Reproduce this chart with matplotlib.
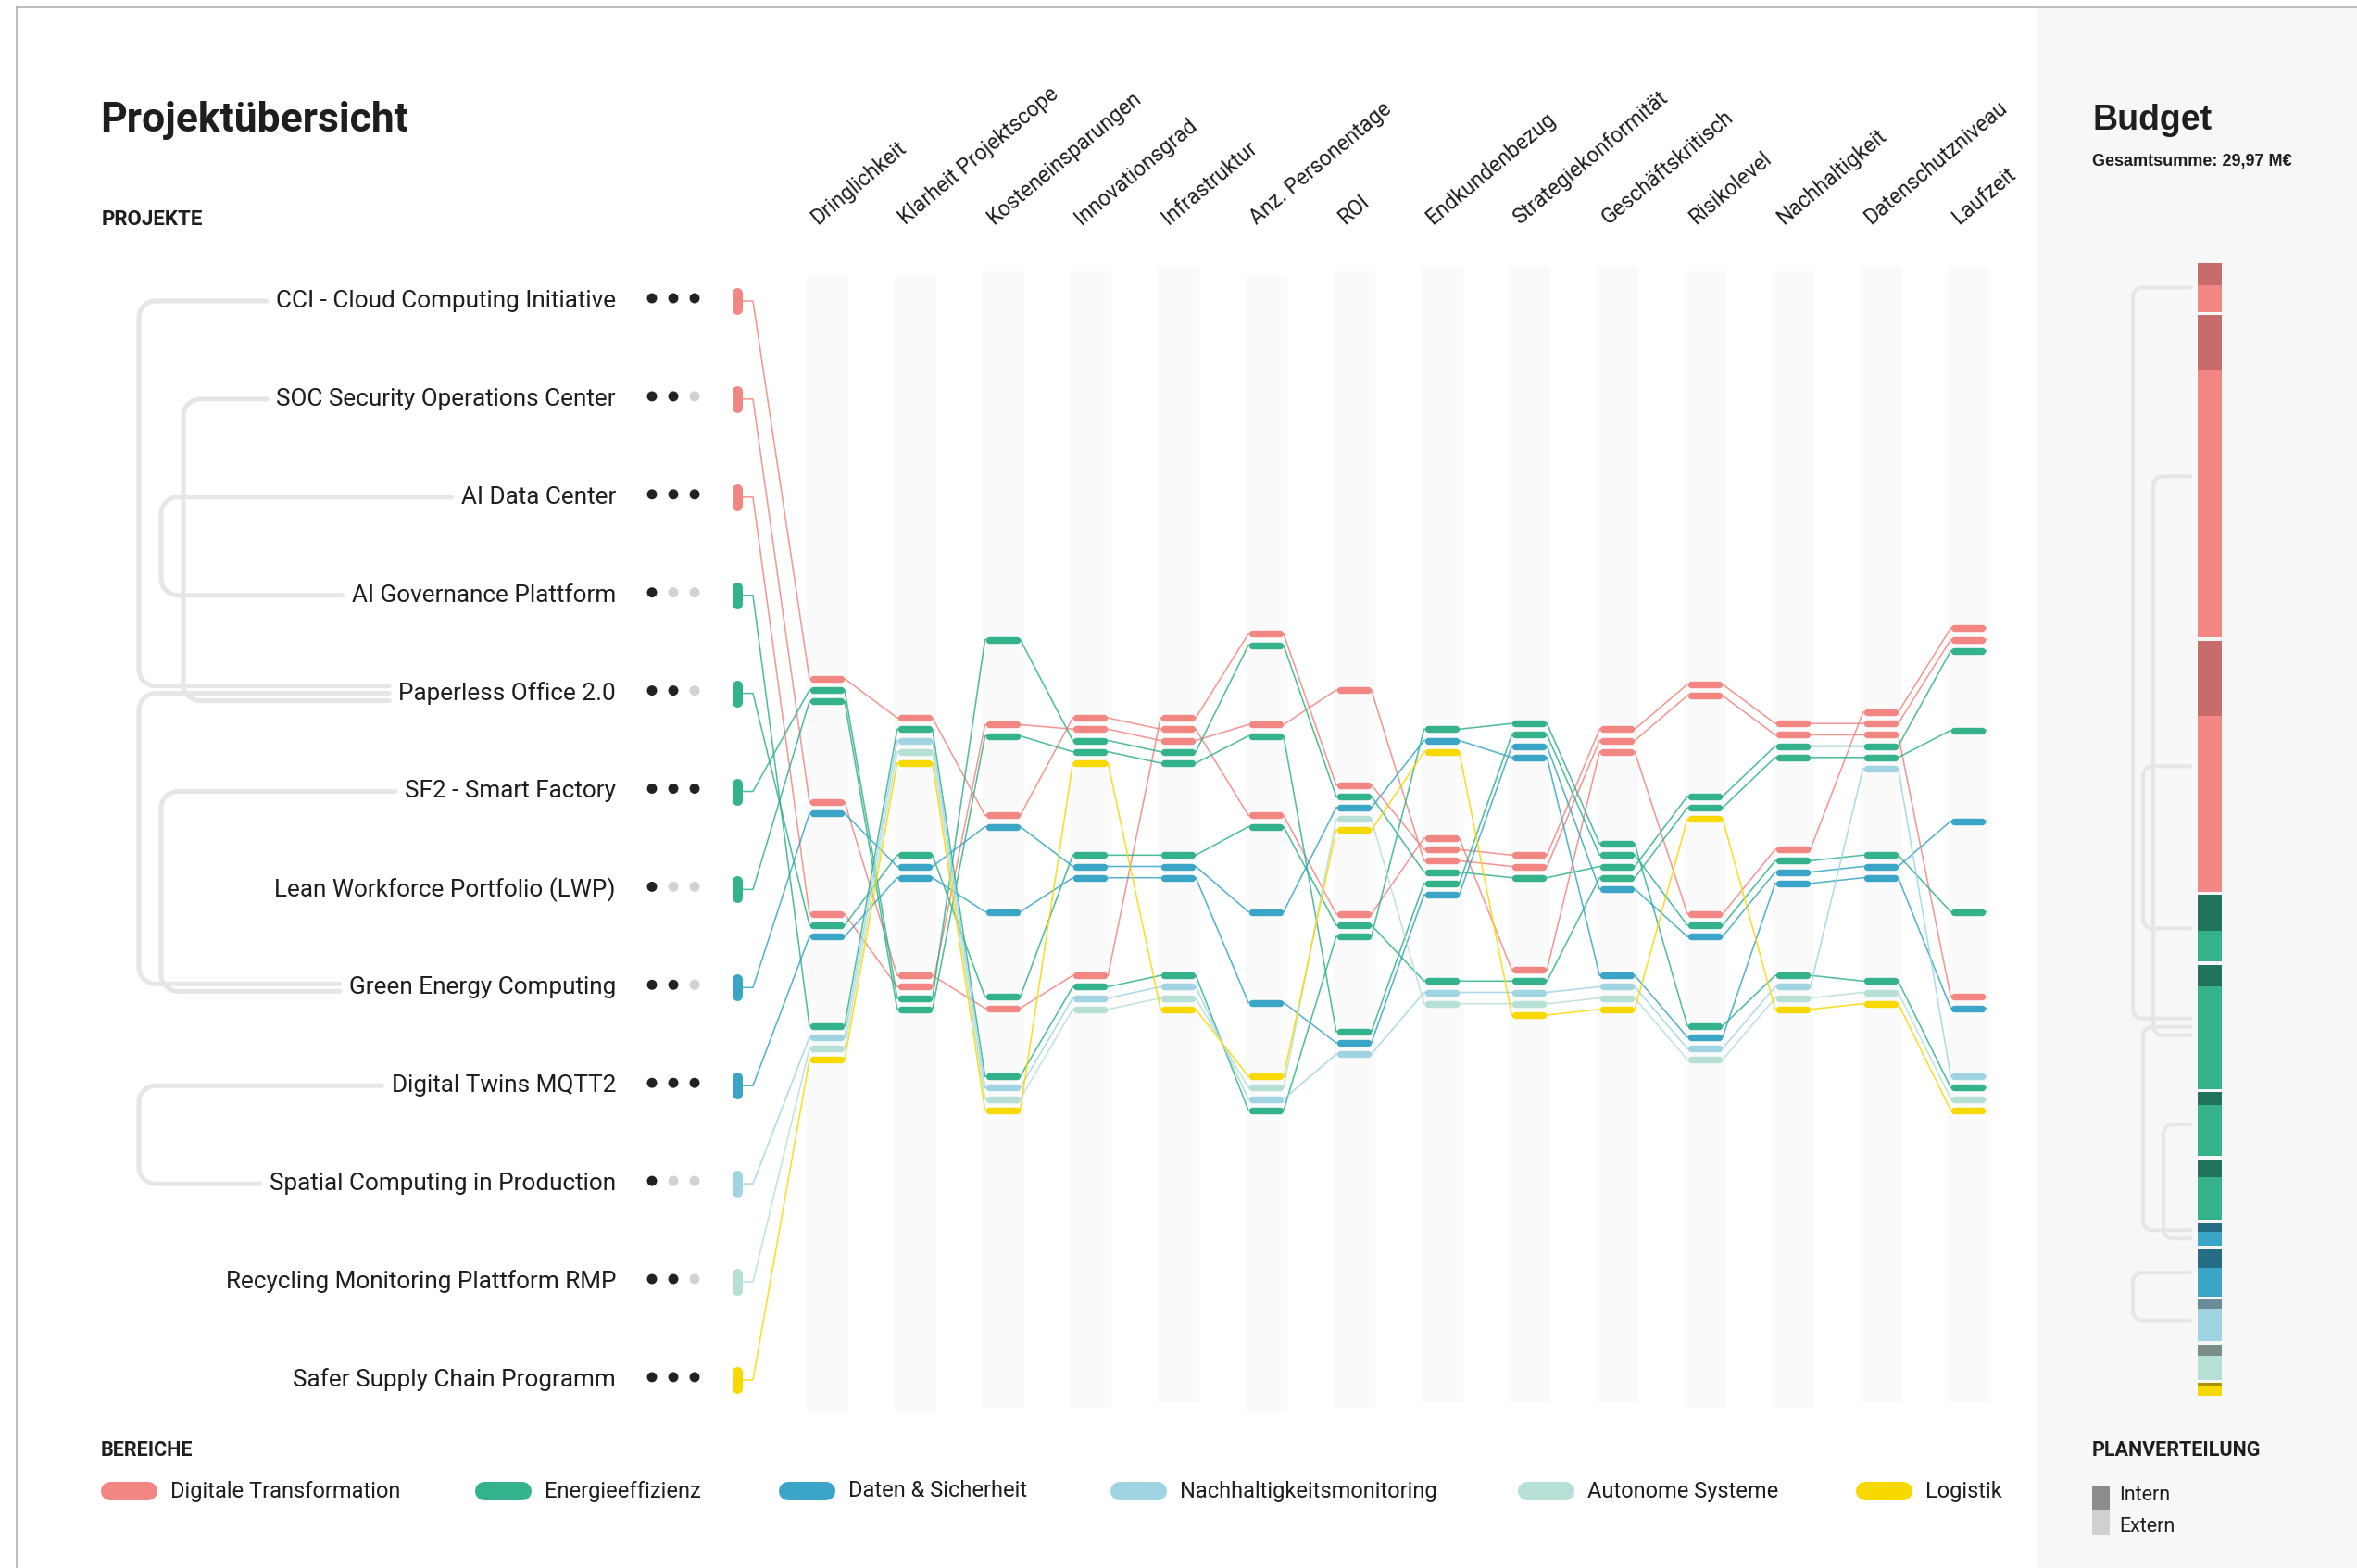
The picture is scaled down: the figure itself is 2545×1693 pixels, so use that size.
import numpy as np
import matplotlib.pyplot as plt
from matplotlib.patches import Rectangle

####################################################
# Data
####################################################
projects = ['CCI - Cloud Computing Initiative', 'SOC Security Operations Center', 'AI Data Center',
            'AI Governance Plattform', 'Paperless Office 2.0', 'SF2 - Smart Factory',
            'Lean Workforce Portfolio (LWP)', 'Green Energy Computing', 'Digital Twins MQTT2',
            'Spatial Computing in Production', 'Recycling Monitoring Plattform RMP',
            'Safer Supply Chain Programm']
project_area = [0, 0, 0, 1, 1, 1, 1, 2, 2, 3, 4, 5]
priority = [3, 2, 3, 1, 2, 3, 1, 2, 3, 1, 2, 3]   # filled dots of 3

areas = ['Digitale Transformation', 'Energieeffizienz', 'Daten & Sicherheit',
         'Nachhaltigkeitsmonitoring', 'Autonome Systeme', 'Logistik']

criteria = ['Dringlichkeit', 'Klarheit Projektscope', 'Kosteneinsparungen', 'Innovationsgrad',
            'Infrastruktur', 'Anz. Personentage', 'ROI', 'Endkundenbezug', 'Strategiekonformität',
            'Geschäftskritisch', 'Risikolevel', 'Nachhaltigkeit', 'Datenschutzniveau', 'Laufzeit']
n_levels = [4, 3, 6, 3, 3, 6, 4, 3, 3, 3, 4, 3, 3, 6]

# one row per criterion, one value per project (higher = further up)
scores = [
    [4, 3, 2, 1, 2, 4, 4, 3, 2, 1, 1, 1],
    [3, 1, 1, 3, 2, 1, 1, 2, 2, 3, 3, 3],
    [4, 2, 5, 1, 2, 6, 5, 4, 3, 1, 1, 1],
    [3, 1, 3, 1, 2, 3, 3, 2, 2, 1, 1, 3],
    [3, 3, 3, 1, 2, 3, 3, 2, 2, 1, 1, 1],
    [4, 6, 5, 1, 4, 6, 5, 3, 2, 1, 1, 1],
    [2, 3, 4, 2, 2, 3, 1, 3, 1, 1, 3, 3],
    [2, 2, 2, 3, 1, 2, 2, 3, 2, 1, 1, 3],
    [1, 2, 2, 3, 1, 2, 3, 3, 3, 1, 1, 1],
    [3, 3, 3, 2, 2, 2, 2, 1, 2, 1, 1, 1],
    [2, 4, 4, 1, 3, 3, 2, 1, 2, 1, 1, 3],
    [2, 3, 3, 1, 3, 3, 2, 2, 2, 1, 1, 1],
    [3, 3, 3, 1, 3, 3, 2, 2, 2, 3, 1, 1],
    [6, 6, 2, 1, 5, 6, 3, 2, 4, 1, 1, 1],
]

# stacking order of tied projects per criterion (top to bottom)
stack_order = [
    [0, 5, 6, 1, 7, 2, 4, 8, 3, 9, 10, 11],
    [0, 3, 9, 10, 11, 4, 7, 8, 1, 2, 5, 6],
    [5, 2, 6, 0, 7, 8, 4, 1, 3, 9, 10, 11],
    [0, 2, 5, 6, 11, 4, 7, 8, 1, 3, 9, 10],
    [1, 0, 2, 5, 6, 4, 7, 8, 3, 9, 10, 11],
    [1, 5, 2, 6, 0, 4, 7, 8, 11, 10, 9, 3],
    [2, 1, 5, 7, 10, 11, 0, 4, 3, 6, 8, 9],
    [3, 7, 11, 0, 1, 2, 5, 6, 8, 4, 9, 10],
    [3, 6, 8, 7, 1, 2, 5, 0, 4, 9, 10, 11],
    [1, 2, 0, 3, 6, 5, 4, 8, 7, 9, 10, 11],
    [1, 2, 5, 4, 11, 0, 6, 8, 3, 7, 9, 10],
    [1, 2, 5, 4, 0, 6, 8, 7, 3, 9, 10, 11],
    [0, 1, 2, 5, 4, 9, 6, 8, 7, 3, 10, 11],
    [0, 1, 5, 4, 8, 6, 2, 7, 9, 3, 10, 11],
]

budget = [1.34, 8.80, 6.86, 1.82, 3.39, 1.75, 1.64, 0.63, 1.29, 1.14, 0.96, 0.35]   # M€
intern_share = [0.45, 0.17, 0.30, 0.54, 0.17, 0.20, 0.29, 0.40, 0.39, 0.22, 0.32, 0.21]

links = [(0, 4), (4, 7), (1, 4), (2, 3), (5, 7), (8, 9)]

####################################################
# Layout / style
####################################################
W, H = 2545, 1693
PX = 0.72                      # points per pixel at dpi 100
area_colors = ['#F28682', '#33B28B', '#3AA5C6', '#A0D4E3', '#B6DFD6', '#F7D900']
dark_colors = ['#C76B6B', '#22735E', '#276C85', '#6A8C97', '#7A8F89', '#A89400']
txt = '#1e1e1e'

row0, row_step = 325, 105.9
col0, col_step = 893, 94.8
pc_center = 935.5
level_step = {3: 136, 4: 127, 6: 98}
stack_gap = 12.2
band_top = [298, 298, 293, 293, 288, 298, 293, 288, 288, 288, 293, 293, 288, 288]
left_depth = [0, 0, 2, 1, 1, 0]
right_depth = [0, 1, 2, 1, 3, 0]
legend_x = [109, 513, 841, 1199, 1639, 2004]

plt.rcParams['font.family'] = ['Roboto', 'DejaVu Sans']


def row_y(j):
    return row0 + j * row_step


def col_x(i):
    return col0 + i * col_step


def tick_positions(c):
    n = n_levels[c]
    pos = {}
    for s in range(1, n + 1):
        group = [p for p in stack_order[c] if scores[c][p] == s]
        base = pc_center - (s - (n + 1) / 2) * level_step[n]
        for k, p in enumerate(group):
            pos[p] = base + (k - (len(group) - 1) / 2) * stack_gap
    return pos


def bracket(ax, xv, y1, y2, xe1, xe2, r, lw):
    t = np.linspace(0, np.pi / 2, 12)
    xs = [xe1] + list(xv + r - r * np.sin(t)) + list(xv + r - r * np.cos(t)) + [xe2]
    ys = [y1] + list(y1 + r - r * np.cos(t)) + list(y2 - r + r * np.sin(t)) + [y2]
    ax.plot(xs, ys, color='#e6e6e6', lw=lw, solid_capstyle='round', zorder=1)


####################################################
# Figure
####################################################
fig = plt.figure(figsize=(W / 100, H / 100), dpi=100)
ax = fig.add_axes([0, 0, 1, 1])
ax.set_xlim(0, W)
ax.set_ylim(H, 0)
ax.axis('off')

# right panel and frame
ax.add_patch(Rectangle((2199, 8), W - 2199, H - 8, color='#f7f7f7', zorder=0))
ax.plot([18, 18], [8, H], color='#a8a8a8', lw=1.5 * PX, zorder=0.2)
ax.plot([18, W], [8, 8], color='#a8a8a8', lw=1.5 * PX, zorder=0.2)

ax.text(108, 130, 'Projektübersicht', fontsize=32, fontweight='bold', color=txt, va='center')
ax.text(110, 237, 'PROJEKTE', fontsize=16, fontweight='bold', color=txt, va='center')

# column bands and headers
for i, crit in enumerate(criteria):
    cx = col_x(i)
    ax.add_patch(Rectangle((cx - 22, band_top[i]), 44, 1226, color='#fafafa', zorder=0.5))
    ax.text(cx - 10, 243, crit, rotation=40, rotation_mode='anchor', ha='left', va='baseline',
            fontsize=16.5, color=txt)

# project labels, priority dots
label_objs = []
for j, name in enumerate(projects):
    ry = row_y(j)
    t = ax.text(665, ry, name, ha='right', va='center', fontsize=18.8, color=txt)
    label_objs.append(t)
    dot_cols = ['#222222' if k < priority[j] else '#d2d2d2' for k in range(3)]
    ax.scatter([704, 727, 750], [ry - 3] * 3, s=62, c=dot_cols, linewidths=0, zorder=3)

# parallel coordinates
positions = [tick_positions(c) for c in range(len(criteria))]
for j in range(len(projects)):
    col = area_colors[project_area[j]]
    ry = row_y(j)
    xs, ys = [796, 813], [ry, ry]
    for c in range(len(criteria)):
        cx = col_x(c)
        y = positions[c][j]
        xs += [cx - 19, cx + 19]
        ys += [y, y]
    ax.plot(xs, ys, color=col, lw=1.6 * PX, alpha=0.85, zorder=2, solid_joinstyle='round')
    ax.plot([796, 796], [ry - 9, ry + 9], color=col, lw=11 * PX, solid_capstyle='round', zorder=4)
    for c in range(len(criteria)):
        cx = col_x(c)
        y = positions[c][j]
        ax.plot([cx - 15, cx + 15], [y, y], color=col, lw=7.4 * PX, solid_capstyle='round', zorder=4)

# left dendrogram links
fig.canvas.draw()
renderer = fig.canvas.get_renderer()
inv = ax.transData.inverted()
label_left = []
for t in label_objs:
    bb = t.get_window_extent(renderer)
    label_left.append(inv.transform((bb.x0, bb.y0))[0])

arm_off = {}
for k, (a, b) in enumerate(links):
    arm_off.setdefault(a, []).append(k)
    arm_off.setdefault(b, []).append(k)


def arm_y(p, k, base, gap):
    lst = arm_off[p]
    m = lst.index(k)
    return base + (m - (len(lst) - 1) / 2) * gap


for k, (a, b) in enumerate(links):
    xv = 150 + 24 * left_depth[k]
    y1 = arm_y(a, k, row_y(a), 8)
    y2 = arm_y(b, k, row_y(b), 8)
    bracket(ax, xv, y1, y2, label_left[a] - 10, label_left[b] - 10, 18, 5 * PX)

# budget bar
ax.text(2259, 130, 'Budget', fontsize=27, fontweight='bold', color=txt, va='center',
        family='Liberation Sans')
total = sum(budget)
ax.text(2259, 174, 'Gesamtsumme: ' + f'{total:.2f}'.replace('.', ',') + ' M€', fontsize=13,
        fontweight='bold', color=txt, va='center', family='Liberation Sans')

bar_x, bar_w, bar_top, seg_gap = 2373, 26, 284, 3.5
scale = (1507 - bar_top - seg_gap * (len(budget) - 1)) / total
seg_mid = []
y = bar_top
for j, b in enumerate(budget):
    h = b * scale
    a = project_area[j]
    ax.add_patch(Rectangle((bar_x, y), bar_w, h, color=area_colors[a], zorder=3, lw=0))
    ax.add_patch(Rectangle((bar_x, y), bar_w, h * intern_share[j], color=dark_colors[a], zorder=3, lw=0))
    seg_mid.append(y + h / 2)
    y += h + seg_gap

for k, (a, b) in enumerate(links):
    xv = 2303 + 11 * right_depth[k]
    y1 = arm_y(a, k, seg_mid[a], 9)
    y2 = arm_y(b, k, seg_mid[b], 9)
    bracket(ax, xv, y1, y2, 2365, 2365, 10, 4 * PX)

# legends
ax.text(109, 1566, 'BEREICHE', fontsize=15.5, fontweight='bold', color=txt, va='center')
for a, name in enumerate(areas):
    lx = legend_x[a]
    ax.plot([lx + 10, lx + 51], [1610, 1610], color=area_colors[a], lw=20 * PX, solid_capstyle='round')
    ax.text(lx + 75, 1610, name, fontsize=17, color=txt, va='center')

ax.text(2259, 1566, 'PLANVERTEILUNG', fontsize=15.5, fontweight='bold', color=txt, va='center')
ax.add_patch(Rectangle((2259, 1605), 19, 25, color='#8c8c8c', lw=0))
ax.add_patch(Rectangle((2259, 1630), 19, 27, color='#d0d0d0', lw=0))
ax.text(2288, 1615, 'Intern', fontsize=15.5, color=txt, va='center')
ax.text(2288, 1648, 'Extern', fontsize=15.5, color=txt, va='center')

fig.savefig('out.png', dpi=100, facecolor='white')
